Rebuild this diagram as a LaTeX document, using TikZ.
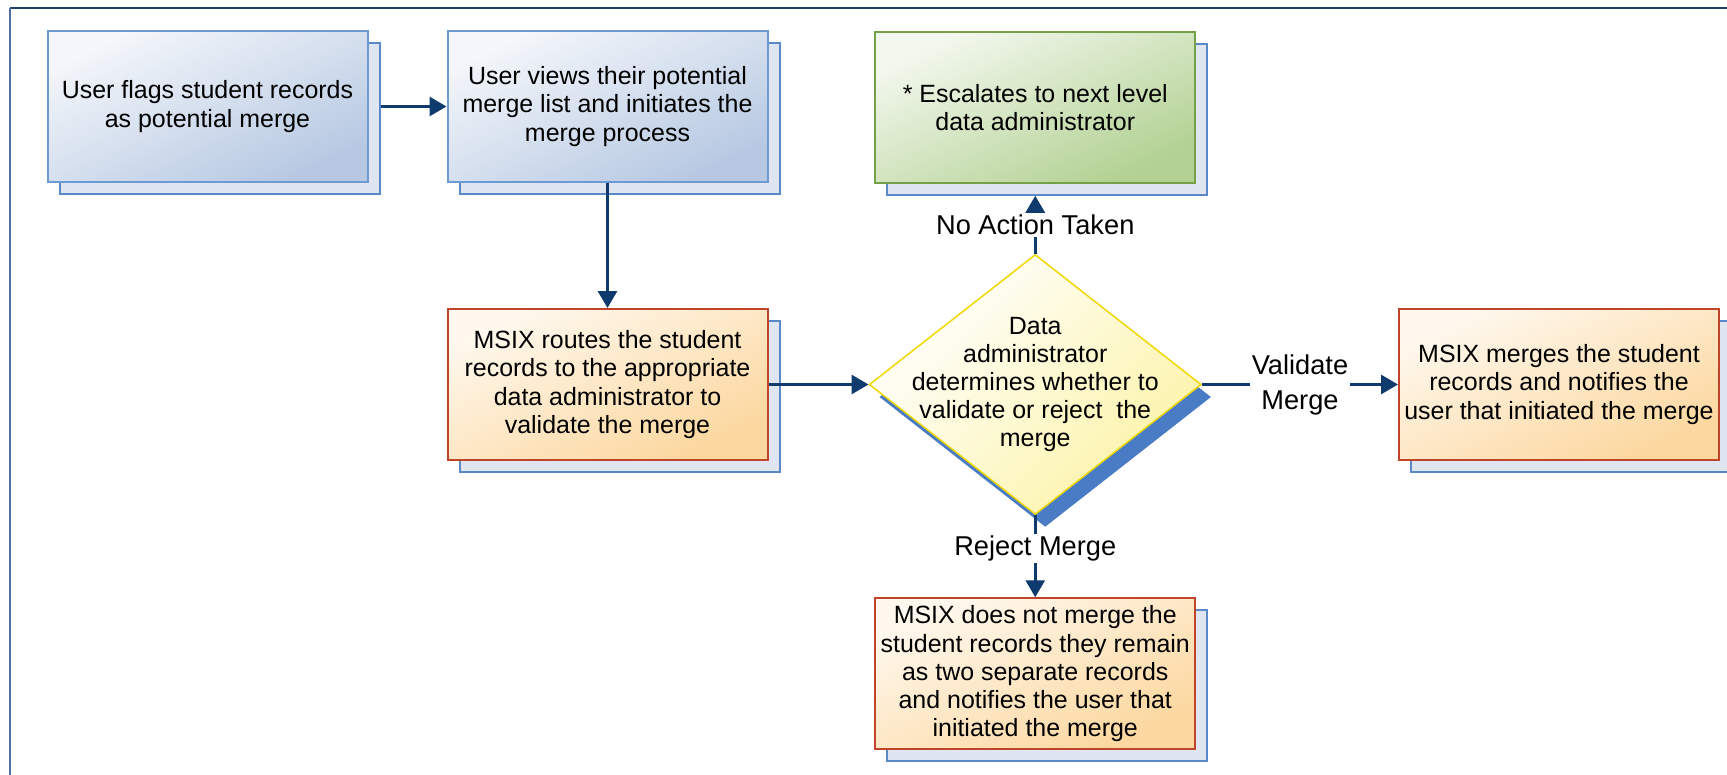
\documentclass[tikz,border=0pt]{standalone}
\usepackage{fontspec}
\setmainfont{Liberation Sans}
\usetikzlibrary{positioning,shapes.geometric,shadows,arrows.meta}

\definecolor{bluefill}{HTML}{B6C8E2}
\definecolor{blueline}{HTML}{6E9AD4}
\definecolor{orangefill}{HTML}{FCD79E}
\definecolor{orangeline}{HTML}{C0442A}
\definecolor{greenfill}{HTML}{B2D192}
\definecolor{greenline}{HTML}{76A048}
\definecolor{yellowfill}{HTML}{FCF3A8}
\definecolor{yellowline}{HTML}{F0D800}
\definecolor{diashadow}{HTML}{4A7CC5}
\definecolor{shadowfill}{HTML}{DFE6F2}
\definecolor{shadowline}{HTML}{5B88C8}
\definecolor{arrowblue}{HTML}{0F3A6E}
\definecolor{frametop}{HTML}{1F3F6A}
\definecolor{frameleft}{HTML}{4F6FA0}

\begin{document}
\begin{tikzpicture}[
    node distance=1cm,
    box text/.style={font=\fontsize{14.2}{16}\selectfont, align=center},
    box/.style={rectangle, box text, minimum width=6.4cm, minimum height=3.02cm, inner sep=0pt, line width=0.04cm,
        copy shadow={shadow xshift=0.24cm, shadow yshift=-0.24cm, fill=shadowfill, draw=shadowline, line width=0.04cm}},
    blue box/.style={box, draw=blueline, top color=bluefill!15!white, middle color=bluefill!72!white, bottom color=bluefill, shading angle=25},
    orange box/.style={box, draw=orangeline, top color=orangefill!18!white, middle color=orangefill!65!white, bottom color=orangefill, shading angle=25},
    green box/.style={box, draw=greenline, top color=greenfill!15!white, middle color=greenfill!70!white, bottom color=greenfill, shading angle=25},
    decision/.style={diamond, minimum width=6.64cm, minimum height=5.2cm, inner sep=0pt, draw=yellowline, line width=0.03cm,
        top color=white, bottom color=yellowfill, shading angle=45,
        drop shadow={shadow xshift=0.2cm, shadow yshift=-0.25cm, fill=diashadow, opacity=1}},
    tag/.style={fill=white, inner sep=1pt, align=center, font=\fontsize{15.5}{19.9}\selectfont},
    flow/.style={draw=arrowblue, line width=0.06cm, -{Triangle[length=0.34cm, width=0.38cm]}},
    ]
    \path [use as bounding box, fill=white] (0,0) rectangle (34.54,-15.5);
    \draw [frametop, line width=0.05cm] (0.2,-0.16) -- (34.54,-0.16);
    \draw [frameleft, line width=0.05cm] (0.2,-0.16) -- (0.2,-15.5);

    \node [blue box] (flag) at (4.15,-2.13) {User flags student records\\as potential merge};
    \node [blue box, right=of flag, xshift=0.56cm] (view) {User views their potential\\merge list and initiates the\\merge process};
    \node [orange box, below=of view, yshift=-1.5cm] (route) {MSIX routes the student\\records to the appropriate\\data administrator to\\validate the merge};
    \node [decision, right=of route, xshift=1cm] (decide) {};
    \node [box text] (decide-text) at (decide) {Data\\administrator\\determines whether to\\validate or reject\ \ the\\merge};
    \node [green box, above=of decide, yshift=0.4cm] (escal) {* Escalates to next level\\data administrator};
    \node [orange box, right=of decide, xshift=2.92cm] (merge) {MSIX merges the student\\records and notifies the\\user that initiated the merge};
    \node [orange box, below=of decide, yshift=-0.64cm] (keep) {MSIX does not merge the\\student records they remain\\as two separate records\\and notifies the user that\\initiated the merge};

    \draw [flow] ([xshift=0.24cm]flag.east) -- (view.west);
    \draw [flow] (view.south) -- (route.north);
    \draw [flow] (route.east) -- (decide.west);
    \draw [flow] (decide.north) -- node [tag] {No Action Taken} ([yshift=-0.24cm]escal.south);
    \draw [flow] (decide.east) -- node [tag] {Validate\\Merge} (merge.west);
    \draw [flow] (decide.south) -- node [tag, pos=0.4] {Reject Merge} (keep.north);
\end{tikzpicture}
\end{document}
